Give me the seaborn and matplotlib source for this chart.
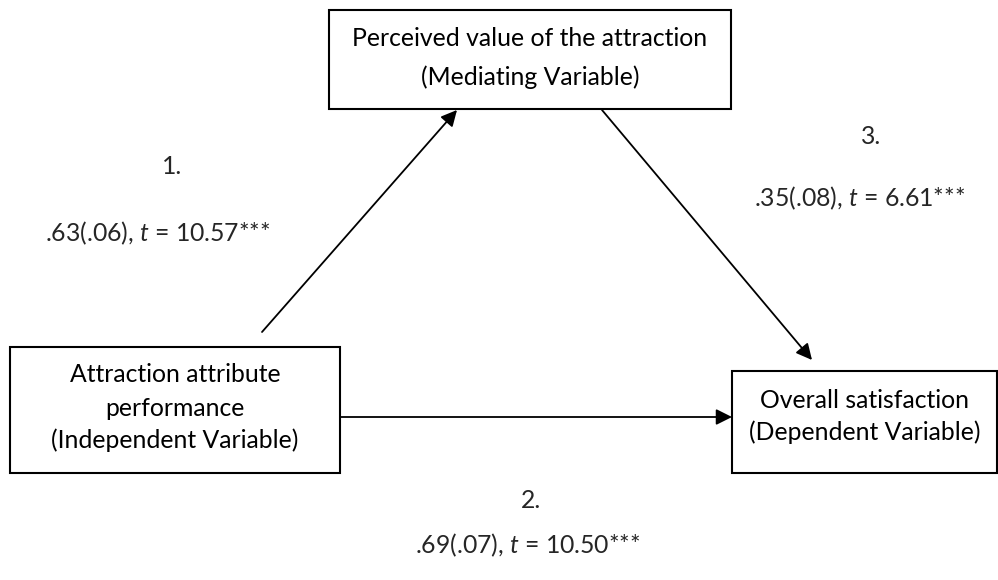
import matplotlib.pyplot as plt
import seaborn as sns
from matplotlib.patches import Rectangle

# mediation model: variables and path estimates
mediator_lines = ["Perceived value of the attraction", "(Mediating Variable)"]
independent_lines = ["Attraction attribute", "performance", "(Independent Variable)"]
dependent_lines = ["Overall satisfaction", "(Dependent Variable)"]

path_ids = ["1.", "2.", "3."]
coefs = [".63", ".69", ".35"]
std_errs = [".06", ".07", ".08"]
t_values = ["10.57", "10.50", "6.61"]
stars = "***"

sns.set_theme(style="white")
plt.rcParams['font.family'] = ['Lato', 'DejaVu Sans']
plt.rcParams['mathtext.fontset'] = 'custom'
plt.rcParams['mathtext.it'] = 'Lato:italic'
plt.rcParams['mathtext.rm'] = 'Lato'

fig = plt.figure(figsize=(9.98, 5.80), dpi=100)
ax = fig.add_axes([0, 0, 1, 1])
ax.set_xlim(0, 998)
ax.set_ylim(580, 0)
ax.axis('off')

FS = 17.8
LW = 1.5


def draw_box(x0, y0, x1, y1, lines, line_ys):
    ax.add_patch(Rectangle((x0, y0), x1 - x0, y1 - y0, fill=False,
                           edgecolor='black', lw=LW))
    cx = (x0 + x1) / 2
    for txt, ly in zip(lines, line_ys):
        ax.text(cx, ly, txt, ha='center', va='center', fontsize=FS, color='black')


def draw_arrow(start, end):
    ax.annotate('', xy=end, xytext=start,
                arrowprops=dict(arrowstyle='-|>', color='black', lw=1.3,
                                mutation_scale=24, shrinkA=0, shrinkB=0))


def path_label(i):
    return f"{coefs[i]}({std_errs[i]}), $\\mathit{{t}}$ = {t_values[i]}{stars}"


# boxes
draw_box(329, 10, 731, 109, mediator_lines, [39, 77])
draw_box(10, 347, 340, 473, independent_lines, [375, 408, 440])
draw_box(732, 371, 997, 473, dependent_lines, [401, 432])

# paths
draw_arrow((262, 332), (457, 110))
draw_arrow((602, 110), (812, 360))
draw_arrow((340, 417), (732, 417))

# path labels
ax.text(172, 167, path_ids[0], ha='center', va='center', fontsize=FS)
ax.text(158, 233, path_label(0), ha='center', va='center', fontsize=FS)
ax.text(531, 501, path_ids[1], ha='center', va='center', fontsize=FS)
ax.text(528, 545, path_label(1), ha='center', va='center', fontsize=FS)
ax.text(871, 137, path_ids[2], ha='center', va='center', fontsize=FS)
ax.text(860, 198, path_label(2), ha='center', va='center', fontsize=FS)

fig.savefig('out.png', dpi=100, facecolor='white')
plt.close(fig)
